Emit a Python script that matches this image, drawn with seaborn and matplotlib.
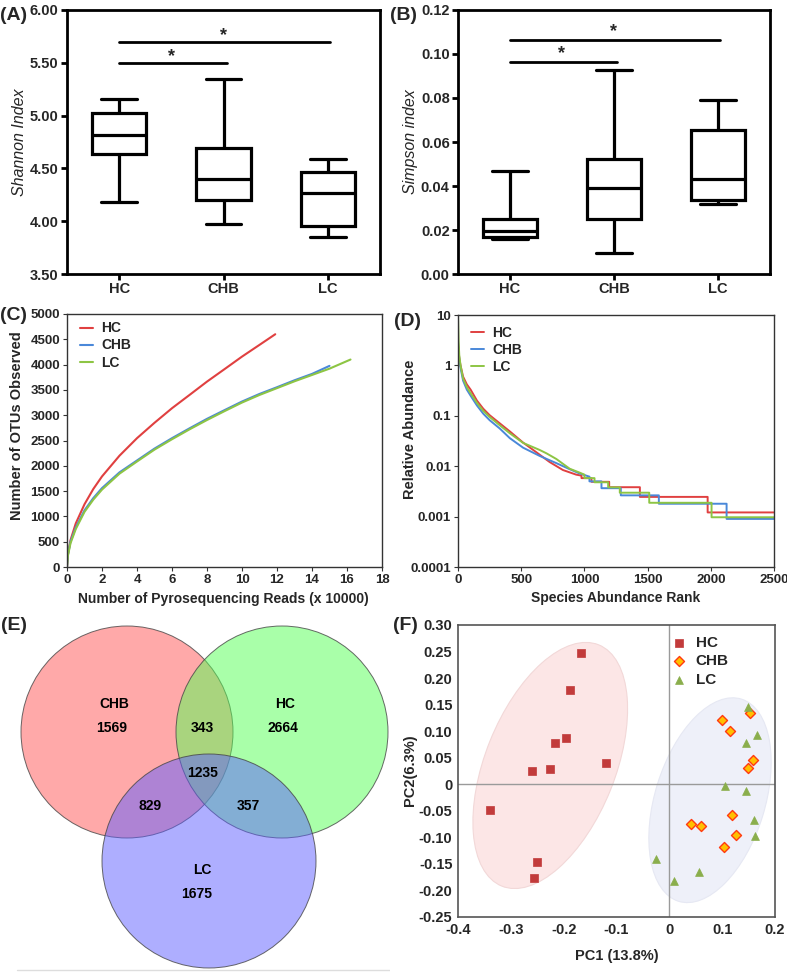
import numpy as np
import pandas as pd
import matplotlib
matplotlib.use("Agg")
import matplotlib.pyplot as plt
import seaborn as sns
from matplotlib.patches import Ellipse, Circle
from matplotlib.ticker import FixedLocator, FixedFormatter

sns.set_theme(style="white")
plt.rcParams['font.family'] = ['Liberation Sans', 'DejaVu Sans']
plt.rcParams['font.weight'] = 'bold'
plt.rcParams['axes.labelweight'] = 'bold'

# ---------------- data ----------------
groups = ["HC", "CHB", "LC"]
# five-number summaries: min, Q1, median, Q3, max
shannon_hc = [4.18, 4.64, 4.82, 5.02, 5.155]
shannon_chb = [3.97, 4.20, 4.40, 4.69, 5.35]
shannon_lc = [3.85, 3.95, 4.27, 4.47, 4.59]
simpson_hc = [0.0160, 0.0166, 0.0197, 0.0250, 0.0469]
simpson_chb = [0.0097, 0.0250, 0.0390, 0.0522, 0.0928]
simpson_lc = [0.0320, 0.0338, 0.0433, 0.0655, 0.0791]

# rarefaction curves (reads x 10000, OTUs)
rare_hc_x = [0, 0.05, 0.2, 0.5, 1, 1.5, 2, 3, 4, 5, 6, 7, 8, 9, 10, 11, 11.9]
rare_hc_y = [0, 250, 530, 860, 1240, 1540, 1790, 2200, 2546, 2850, 3138, 3400, 3664, 3910, 4158, 4390, 4600]
rare_chb_x = [0, 0.05, 0.2, 0.5, 1, 1.5, 2, 3, 4, 5, 6, 7, 8, 9, 10, 11, 12, 13, 14, 15]
rare_chb_y = [0, 240, 500, 780, 1120, 1360, 1559, 1870, 2105, 2340, 2546, 2740, 2928, 3100, 3270, 3420, 3553, 3690, 3816, 3975]
rare_lc_x = [0, 0.05, 0.2, 0.5, 1, 1.5, 2, 3, 4, 5, 6, 7, 8, 9, 10, 11, 12, 13, 14, 15, 16.2]
rare_lc_y = [0, 220, 470, 750, 1090, 1330, 1530, 1845, 2085, 2320, 2525, 2720, 2905, 3080, 3250, 3400, 3535, 3670, 3795, 3920, 4100]

# rank abundance curves
rank_hc = [0, 10, 20, 40, 70, 100, 150, 200, 250, 330, 410, 515, 620, 725, 830, 935, 977, 977, 1056, 1056,
           1196, 1196, 1439, 1439, 1975, 1975, 2500]
abund_hc = [2.5, 1.4, 1.0, 0.6, 0.42, 0.33, 0.2, 0.138, 0.103, 0.071, 0.049, 0.0294, 0.0189, 0.0121, 0.0084,
            0.0068, 0.0065, 0.0058, 0.0058, 0.0049, 0.0049, 0.00383, 0.00383, 0.00246, 0.00246, 0.00121, 0.00121]
rank_chb = [0, 10, 20, 40, 70, 100, 150, 200, 250, 330, 410, 515, 646, 778, 880, 960, 1040, 1040, 1135, 1135,
            1288, 1288, 1589, 1589, 2125, 2125, 2500]
abund_chb = [3.0, 1.3, 0.9, 0.5, 0.33, 0.25, 0.16, 0.11, 0.082, 0.056, 0.036, 0.0233, 0.016, 0.0115, 0.0088,
             0.0072, 0.0062, 0.0050, 0.0050, 0.00366, 0.00366, 0.00264, 0.00264, 0.0018, 0.0018, 0.0009, 0.0009]
rank_lc = [0, 5, 10, 20, 40, 70, 100, 150, 200, 250, 330, 410, 515, 646, 700, 778, 884, 960, 1000, 1000,
           1080, 1080, 1188, 1188, 1280, 1280, 1513, 1513, 2006, 2006, 2500]
abund_lc = [10, 3, 1.6, 1.0, 0.55, 0.37, 0.28, 0.18, 0.125, 0.095, 0.065, 0.045, 0.029, 0.021, 0.018, 0.0139,
            0.0089, 0.0075, 0.0068, 0.0058, 0.0058, 0.0048, 0.0048, 0.0038, 0.0038, 0.00298, 0.00298, 0.00188,
            0.00188, 0.00097, 0.00097]

# Venn counts
venn_labels = ["CHB", "HC", "LC"]
venn_only = [1569, 2664, 1675]
venn_pairs = {"CHB&HC": 343, "CHB&LC": 829, "HC&LC": 357}
venn_all = 1235

# PCoA
pc_hc_x = [-0.167, -0.188, -0.196, -0.217, -0.225, -0.259, -0.120, -0.340, -0.250, -0.256]
pc_hc_y = [0.248, 0.177, 0.088, 0.078, 0.0285, 0.0247, 0.041, -0.048, -0.146, -0.176]
pc_chb_x = [0.099, 0.115, 0.153, 0.159, 0.148, 0.119, 0.041, 0.059, 0.126, 0.104]
pc_chb_y = [0.121, 0.101, 0.135, 0.045, 0.031, -0.058, -0.075, -0.078, -0.095, -0.119]
pc_lc_x = [0.148, 0.166, 0.145, 0.106, 0.145, 0.160, 0.163, -0.025, 0.056, 0.008]
pc_lc_y = [0.145, 0.093, 0.078, -0.003, -0.012, -0.068, -0.097, -0.141, -0.165, -0.182]

line_pal = {"HC": "#e04040", "CHB": "#4a88d9", "LC": "#8dc544"}

W, H = 787, 973
fig = plt.figure(figsize=(W / 100, H / 100), dpi=100)


def ax_px(l, t, r, b):
    return fig.add_axes([l / W, 1 - b / H, (r - l) / W, (b - t) / H])


def panel_label(txt, x, y):
    fig.text(x / W, 1 - y / H, txt, fontsize=14, fontweight='bold', ha='left', va='center')


# ---------------- A & B: boxplots ----------------
def box_panel(ax, vals, ylim, ticks, fmt, ylabel, sig):
    df = pd.DataFrame({"group": np.repeat(groups, 5),
                       "value": np.concatenate(vals)})
    sns.boxplot(data=df, x="group", y="value", order=groups, whis=(0, 100), width=0.52,
                color="white", linecolor="black", linewidth=2.3, ax=ax, capwidths=0.34)
    ax.set_xlim(-0.5, 2.5)
    ax.set_ylim(*ylim)
    ax.yaxis.set_major_locator(FixedLocator(ticks))
    ax.yaxis.set_major_formatter(FixedFormatter([fmt % t for t in ticks]))
    for s in ax.spines.values():
        s.set_linewidth(2.0)
        s.set_color("black")
    ax.tick_params(axis='both', which='major', direction='out', length=4, width=2,
                   labelsize=10.5, color="black", left=True, bottom=True, pad=2)
    for lab in ax.get_xticklabels() + ax.get_yticklabels():
        lab.set_fontweight('bold')
    ax.set_xlabel("")
    ax.set_ylabel(ylabel, fontsize=11.5, fontstyle='italic', fontweight='normal')
    ax.yaxis.set_label_coords(-0.128, 0.5)
    (y1, s1), (y2, s2) = sig
    ax.plot([0, 1.03], [y1, y1], color="black", lw=2.0)
    ax.plot([0, 2.02], [y2, y2], color="black", lw=2.0)
    ax.text(0.5, s1, "*", ha='center', va='center', fontsize=13, fontweight='bold')
    ax.text(1.0, s2, "*", ha='center', va='center', fontsize=13, fontweight='bold')


axA = ax_px(67, 10, 380, 274)
box_panel(axA, [shannon_hc, shannon_chb, shannon_lc], (3.5, 6.0),
          [3.5, 4.0, 4.5, 5.0, 5.5, 6.0], "%.2f", "Shannon Index",
          [(5.496, 5.56), (5.695, 5.76)])
axB = ax_px(458, 10, 770, 274)
box_panel(axB, [simpson_hc, simpson_chb, simpson_lc], (0, 0.12),
          [0, 0.02, 0.04, 0.06, 0.08, 0.10, 0.12], "%.2f", "Simpson index",
          [(0.0965, 0.1002), (0.1062, 0.1100)])
panel_label("(A)", 0, 15)
panel_label("(B)", 390, 15)


def thin_axes(ax):
    for s in ax.spines.values():
        s.set_linewidth(1.0)
        s.set_color("#333333")
    ax.tick_params(axis='both', which='major', direction='out', length=3, width=0.8,
                   labelsize=9.5, color="#333333", left=True, bottom=True, pad=2)
    for lab in ax.get_xticklabels() + ax.get_yticklabels():
        lab.set_fontweight('bold')


# ---------------- C: rarefaction ----------------
rare_df = pd.concat([
    pd.DataFrame({"reads": rare_hc_x, "otus": rare_hc_y, "group": "HC"}),
    pd.DataFrame({"reads": rare_chb_x, "otus": rare_chb_y, "group": "CHB"}),
    pd.DataFrame({"reads": rare_lc_x, "otus": rare_lc_y, "group": "LC"}),
])
axC = ax_px(67, 314, 382, 567)
sns.lineplot(data=rare_df, x="reads", y="otus", hue="group", hue_order=groups, palette=line_pal,
             estimator=None, sort=False, linewidth=1.5, ax=axC)
axC.set_xlim(0, 18)
axC.set_ylim(0, 5000)
axC.set_xticks(range(0, 19, 2))
axC.set_yticks(range(0, 5001, 500))
thin_axes(axC)
axC.set_xlabel("Number of Pyrosequencing Reads (x 10000)", fontsize=10, fontweight='bold')
axC.set_ylabel("Number of OTUs Observed", fontsize=10.5, fontweight='bold')
axC.xaxis.set_label_coords(0.498, -0.097)
axC.yaxis.set_label_coords(-0.137, 0.56)
axC.legend(loc='upper left', bbox_to_anchor=(0.0, 1.02), frameon=False, handlelength=1.0,
           handletextpad=0.55, labelspacing=0.22, prop={'weight': 'bold', 'size': 10})
panel_label("(C)", 0, 315)

# ---------------- D: rank abundance ----------------
rank_df = pd.concat([
    pd.DataFrame({"rank": rank_hc, "abund": abund_hc, "group": "HC"}),
    pd.DataFrame({"rank": rank_chb, "abund": abund_chb, "group": "CHB"}),
    pd.DataFrame({"rank": rank_lc, "abund": abund_lc, "group": "LC"}),
])
axD = ax_px(458, 315, 774, 567)
sns.lineplot(data=rank_df, x="rank", y="abund", hue="group", hue_order=groups, palette=line_pal,
             estimator=None, sort=False, linewidth=1.4, ax=axD)
axD.set_yscale('log')
axD.set_xlim(0, 2500)
axD.set_ylim(1e-4, 10)
axD.set_xticks([0, 500, 1000, 1500, 2000, 2500])
axD.yaxis.set_major_locator(FixedLocator([1e-4, 1e-3, 1e-2, 1e-1, 1, 10]))
axD.yaxis.set_major_formatter(FixedFormatter(["0.0001", "0.001", "0.01", "0.1", "1", "10"]))
axD.yaxis.set_minor_locator(FixedLocator([]))
thin_axes(axD)
axD.set_xlabel("Species Abundance Rank", fontsize=10, fontweight='bold')
axD.set_ylabel("Relative Abundance", fontsize=10.5, fontweight='bold')
axD.xaxis.set_label_coords(0.5, -0.097)
axD.yaxis.set_label_coords(-0.13, 0.545)
axD.legend(loc='upper left', bbox_to_anchor=(0.0, 1.005), frameon=False, handlelength=1.0,
           handletextpad=0.55, labelspacing=0.2, prop={'weight': 'bold', 'size': 10})
panel_label("(D)", 394, 322)

# ---------------- E: Venn ----------------
axE = ax_px(0, 600, 390, 973)
axE.set_xlim(0, 390)
axE.set_ylim(973, 600)
axE.axis('off')
circ_pos = {"CHB": (127, 732, 106), "HC": (282, 732, 106), "LC": (209, 861, 107)}
circ_col = {"CHB": "#ff5555", "HC": "#55ff55", "LC": "#5f5fff"}
for g in venn_labels:
    cx, cy, r = circ_pos[g]
    axE.add_patch(Circle((cx, cy), r, facecolor=circ_col[g], alpha=0.5, edgecolor='none'))
    axE.add_patch(Circle((cx, cy), r, facecolor='none', edgecolor='#444444', lw=0.7, alpha=0.8))
tkw = dict(ha='center', va='center', fontsize=10, fontweight='bold', color='black')
axE.text(114, 704, venn_labels[0], **tkw)
axE.text(112, 728, str(venn_only[0]), **tkw)
axE.text(285, 704, venn_labels[1], **tkw)
axE.text(283, 728, str(venn_only[1]), **tkw)
axE.text(202, 870, venn_labels[2], **tkw)
axE.text(197, 894, str(venn_only[2]), **tkw)
axE.text(202, 728, str(venn_pairs["CHB&HC"]), **tkw)
axE.text(150, 806, str(venn_pairs["CHB&LC"]), **tkw)
axE.text(248, 806, str(venn_pairs["HC&LC"]), **tkw)
axE.text(203, 773, str(venn_all), **tkw)
axE.plot([17, 395], [970, 970], color='#dddddd', lw=1)
panel_label("(E)", 1, 625)

# ---------------- F: PCoA ----------------
axF = ax_px(458, 625, 775, 917)
axF.add_patch(Ellipse((-0.2254, 0.0354), 0.49, 0.246, angle=68, facecolor='#fce6e6',
                      edgecolor='#f2d8d8', lw=0.8, zorder=0))
axF.add_patch(Ellipse((0.077, -0.030), 0.399, 0.208, angle=72.6, facecolor='#eef0f9',
                      edgecolor='#e6e8f3', lw=0.8, zorder=0))
axF.axhline(0, color='#9a9a9a', lw=1.0, zorder=1)
axF.axvline(0, color='#9a9a9a', lw=1.0, zorder=1)
sns.scatterplot(x=pc_hc_x, y=pc_hc_y, marker='s', s=30, color='#c23b3b', edgecolor='#c23b3b',
                linewidth=0.5, label="HC", ax=axF, zorder=3)
sns.scatterplot(x=pc_chb_x, y=pc_chb_y, marker='D', s=26, color='#ffc000', edgecolor='#ff3a10',
                linewidth=1.0, label="CHB", ax=axF, zorder=3)
sns.scatterplot(x=pc_lc_x, y=pc_lc_y, marker='^', s=32, color='#8aae4c', edgecolor='#8aae4c',
                linewidth=0.5, label="LC", ax=axF, zorder=3)
axF.set_xlim(-0.4, 0.2)
axF.set_ylim(-0.25, 0.30)
xt = [-0.4, -0.3, -0.2, -0.1, 0, 0.1, 0.2]
yt = [-0.25, -0.20, -0.15, -0.10, -0.05, 0, 0.05, 0.10, 0.15, 0.20, 0.25, 0.30]
axF.xaxis.set_major_locator(FixedLocator(xt))
axF.xaxis.set_major_formatter(FixedFormatter(["0" if v == 0 else "%.1f" % v for v in xt]))
axF.yaxis.set_major_locator(FixedLocator(yt))
axF.yaxis.set_major_formatter(FixedFormatter(["0" if v == 0 else "%.2f" % v for v in yt]))
for s in axF.spines.values():
    s.set_linewidth(1.2)
    s.set_color("#555555")
axF.tick_params(axis='both', length=0, labelsize=10.5, pad=4)
for lab in axF.get_xticklabels() + axF.get_yticklabels():
    lab.set_fontweight('bold')
axF.set_xlabel("PC1 (13.8%)", fontsize=10.5, fontweight='bold')
axF.set_ylabel("PC2(6.3%)", fontsize=10.5, fontweight='bold')
axF.xaxis.set_label_coords(0.5, -0.11)
axF.yaxis.set_label_coords(-0.129, 0.503)
axF.legend(loc='upper left', bbox_to_anchor=(0.605, 1.01), frameon=False, handletextpad=0.1,
           labelspacing=0.3, prop={'weight': 'bold', 'size': 11})
panel_label("(F)", 393, 625)

fig.savefig("out.png", dpi=100)
